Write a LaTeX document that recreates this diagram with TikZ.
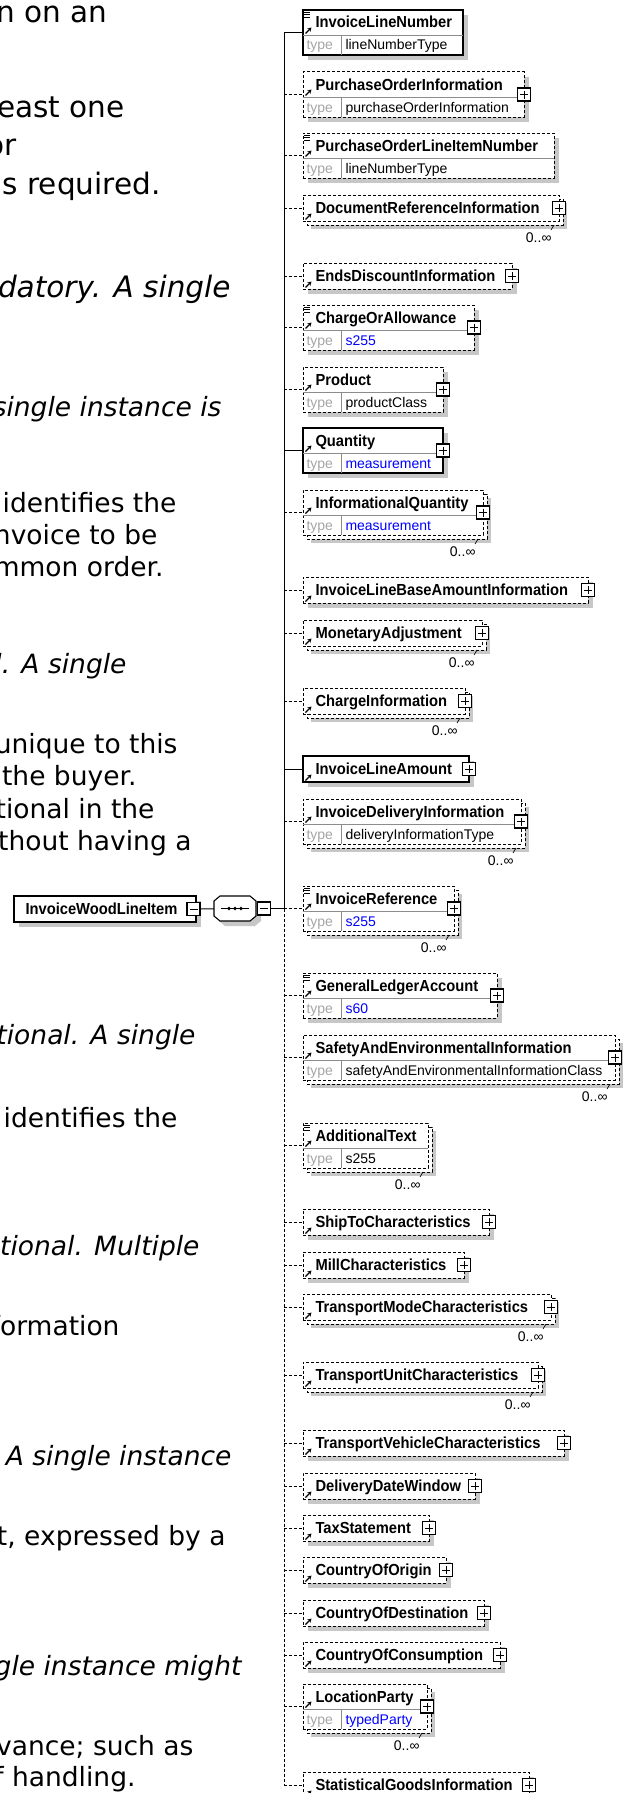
\documentclass[tikz,border=0pt]{standalone}
\usepackage{fontspec}
\setmainfont{Liberation Sans}
\newfontfamily\namefont{Liberation Sans}[FakeStretch=0.92]
\newfontfamily\docfont{DejaVu Sans}
\usetikzlibrary{arrows.meta}

\begin{document}
\begin{tikzpicture}[x=1pt, y=1pt, line width=1pt,
  elem/.style={draw, fill=white, anchor=north west, inner sep=0pt, outer sep=0pt},
  req/.style={solid, line width=1.3pt},
  opt/.style={dash pattern=on 3pt off 2pt},
  shade/.style={fill=black!22},
  octline/.style={draw, fill=white, line width=1.1pt},
  ename/.style={font=\namefont\bfseries\fontsize{16}{18}\selectfont, anchor=base west, inner sep=0pt},
  etype/.style={font=\fontsize{14}{16}\selectfont, anchor=base west, inner sep=0pt},
  card/.style={font=\fontsize{14}{16}\selectfont, anchor=base east, inner sep=0pt},
  rule/.style={draw=black!45, line width=.8pt, solid},
  collapse/.style={draw, fill=white, solid, line width=1.2pt, minimum size=13pt, inner sep=0pt,
    path picture={\draw[line width=.9pt] ([xshift=2.5pt]path picture bounding box.west)
      -- ([xshift=-2.5pt]path picture bounding box.east);}},
  expand/.style={draw, fill=white, solid, line width=1.2pt, minimum size=13pt, inner sep=0pt,
    path picture={\draw[line width=.9pt] ([xshift=2.5pt]path picture bounding box.west)
      -- ([xshift=-2.5pt]path picture bounding box.east)
      ([yshift=-2.5pt]path picture bounding box.north)
      -- ([yshift=2.5pt]path picture bounding box.south);}},
  seqbox/.style={minimum width=42pt, minimum height=25pt, inner sep=0pt, outer sep=0pt},
  lead/.style={font=\docfont\fontsize{29.5}{35}\selectfont, anchor=base east, inner sep=0pt},
  leadit/.style={lead, font=\docfont\itshape\fontsize{29.5}{35}\selectfont},
  body/.style={font=\docfont\fontsize{26.5}{32}\selectfont, anchor=base east, inner sep=0pt},
  bodyit/.style={body, font=\docfont\itshape\fontsize{26.5}{32}\selectfont}]

\useasboundingbox (0,0) rectangle (622,-1793);

% page text behind the diagram
\foreach \rx/\by/\sty/\txt [count=\i] in {
  108/23/lead/n on an, 125/117/lead/east one, 17/155/lead/or,
  161/194/lead/s required., 231/297/leadit/datory. A single,
  222/416/bodyit/single instance is, 177/512/body/identifies the,
  158/544/body/nvoice to be, 164/576/body/mmon order.,
  127/673/bodyit/l. A single, 178/753/body/unique to this,
  137/785/body/the buyer., 155/818/body/tional in the,
  192/850/body/thout having a, 196/1044/bodyit/tional. A single,
  178/1127/body/identifies the, 200/1255/bodyit/tional. Multiple,
  120/1335/body/formation, 232/1465/bodyit/A single instance,
  226/1545/body/{t, expressed by a}, 242/1675/bodyit/gle instance might,
  194/1755/body/vance; such as, 136/1786/body/f handling.}
  \node[\sty] (doc\i) at (\rx,-\by) {\txt};

% spine of the sequence
\coordinate (spine) at (284,0);
\coordinate (spinetop) at (284,-32.5);
\coordinate (junction) at (284,-908.5);
\coordinate (spinebot) at (284,-1785);
\draw (spinetop) -- (junction);
\draw[opt] (junction) -- (spinebot);

% child elements: name/top/right/rows/label/type/colour/style/plus/many/simple
\foreach \id/\ty/\rt/\rows/\lbl/\typ/\tcol/\lsty/\pl/\mny/\smp in {
  lineNo/10/463/2/InvoiceLineNumber/lineNumberType/black/req/0/0/1,
  poInfo/72/524/2/PurchaseOrderInformation/purchaseOrderInformation/black/opt/1/0/0,
  poLine/133/554/2/PurchaseOrderLineItemNumber/lineNumberType/black/opt/0/0/1,
  docRef/195/559/1/DocumentReferenceInformation/-/black/opt/1/1/0,
  endsDisc/263/512/1/EndsDiscountInformation/-/black/opt/1/0/0,
  chargeAllow/305/474/2/ChargeOrAllowance/s255/blue/opt/1/0/1,
  product/367/443/2/Product/productClass/black/opt/1/0/0,
  quantity/428/443/2/Quantity/measurement/blue/req/1/0/0,
  infoQty/490/483/2/InformationalQuantity/measurement/blue/opt/1/1/0,
  baseAmt/577/588/1/InvoiceLineBaseAmountInformation/-/black/opt/1/0/0,
  monAdj/620/482/1/MonetaryAdjustment/-/black/opt/1/1/0,
  chargeInfo/688/465/1/ChargeInformation/-/black/opt/1/1/0,
  lineAmt/756/469/1/InvoiceLineAmount/-/black/req/1/0/0,
  delivInfo/799/521/2/InvoiceDeliveryInformation/deliveryInformationType/black/opt/1/1/0,
  invRef/886/454/2/InvoiceReference/s255/blue/opt/1/1/1,
  glAcct/973/497/2/GeneralLedgerAccount/s60/blue/opt/1/0/1,
  safety/1035/615/2/SafetyAndEnvironmentalInformation/safetyAndEnvironmentalInformationClass/black/opt/1/1/0,
  addText/1123/428/2/AdditionalText/s255/black/opt/0/1/1,
  shipTo/1209/489/1/ShipToCharacteristics/-/black/opt/1/0/0,
  mill/1252/464/1/MillCharacteristics/-/black/opt/1/0/0,
  transMode/1294/551/1/TransportModeCharacteristics/-/black/opt/1/1/0,
  transUnit/1362/538/1/TransportUnitCharacteristics/-/black/opt/1/1/0,
  transVeh/1430/564/1/TransportVehicleCharacteristics/-/black/opt/1/0/0,
  delivDate/1473/475/1/DeliveryDateWindow/-/black/opt/1/0/0,
  taxStmt/1515/429/1/TaxStatement/-/black/opt/1/0/0,
  origin/1557/446/1/CountryOfOrigin/-/black/opt/1/0/0,
  dest/1600/484/1/CountryOfDestination/-/black/opt/1/0/0,
  consump/1642/500/1/CountryOfConsumption/-/black/opt/1/0/0,
  locParty/1684/427/2/LocationParty/typedParty/blue/opt/1/1/0,
  statGoods/1772/529/1/StatisticalGoodsInformation/-/black/opt/1/0/0}
{
  \pgfmathsetmacro\h{\rows==2 ? 45 : 26}
  \pgfmathsetmacro\yb{\ty+\h}
  \pgfmathsetmacro\bw{\rt-303}
  \pgfmathsetmacro\nrb{\rows==2 ? \ty+25 : \yb}
  \pgfmathsetmacro\sh{\mny==1 ? 8 : 5}
  \fill[shade] ({303+\sh},{-\ty-\sh}) rectangle ({\rt+\sh},{-\yb-\sh});
  \ifnum\mny=1
    \draw[\lsty, fill=white] (307,{-\ty-4}) rectangle ({\rt+4},{-\yb-4});
  \fi
  \node[elem, \lsty, minimum width=\bw pt, minimum height=\h pt] (\id) at (303,-\ty) {};
  \draw[\lsty, line width=1pt] (\id.west -| spine) -- (\id.west);
  \node[ename] (\id-n) at (315,{-\ty-18}) {\lbl};
  \ifnum\rows=2
    \draw[rule] (303,{-\ty-25}) -- (\rt,{-\ty-25}) (341,{-\ty-25}) -- (341,-\yb);
    \node[etype, text=black!35] (\id-k) at (306,{-\ty-40}) {type};
    \node[etype, text=\tcol] (\id-t) at (345,{-\ty-40}) {\typ};
  \fi
  \ifnum\smp=1
    \draw[line width=.8pt] (304,{-\ty-2}) -- ++(6,0) (304,{-\ty-4.5}) -- ++(6,0)
      (304,{-\ty-7}) -- ++(6,0);
  \fi
  \draw[-{Stealth[length=4pt,width=4.5pt]}, line width=1.1pt] (305.5,{-\nrb+1.5}) -- (311.5,{-\nrb+7.5});
  \ifnum\pl=1
    \node[expand] (\id-x) at (\rt,{-\ty-\h/2}) {};
  \fi
  \ifnum\mny=1
    \draw[line width=.7pt] ({\rt-5},{-\yb-4}) -- ({\rt-8},{-\yb-9});
    \node[card] (\id-c) at ({\rt-7},{-\yb-21}) {0..∞};
  \fi
}

% parent element and its sequence
\fill[shade] (19,-901) rectangle (201,-927);
\node[elem, req, minimum width=182pt, minimum height=26pt] (root) at (14,-896) {};
\node[ename] (root-n) at (25,-914) {InvoiceWoodLineItem};
\node[collapse] (root-x) at (193.5,-909) {};
\node[seqbox] (seq-s) at (240,-913.5) {};
\node[seqbox] (seq) at (235,-908.5) {};
\foreach \n/\o in {seq-s/shade, seq/octline}
  \path[\o] ([xshift=6pt]\n.north west) -- ([xshift=-6pt]\n.north east)
    -- ([yshift=-5pt]\n.north east) -- ([yshift=5pt]\n.south east)
    -- ([xshift=-6pt]\n.south east) -- ([xshift=6pt]\n.south west)
    -- ([yshift=5pt]\n.south west) -- ([yshift=-5pt]\n.north west) -- cycle;
\draw[line width=1.1pt] ([xshift=7pt]seq.west) -- ([xshift=-7pt]seq.east);
\foreach \dx in {-6,0,6}
  \fill ([xshift=\dx pt]seq.center) circle (1.8pt);
\node[collapse] (seq-x) at (264,-908.5) {};
\draw (root-x) -- (seq);
\draw (seq-x) -- (junction);
\end{tikzpicture}
\end{document}
